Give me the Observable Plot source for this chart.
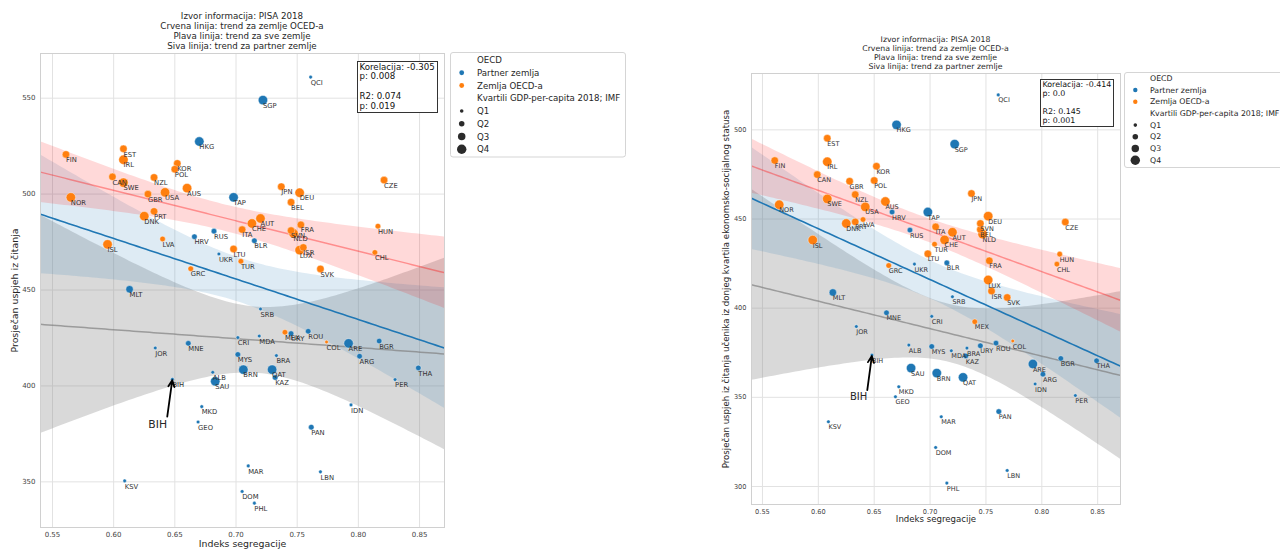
<!DOCTYPE html>
<html><head><meta charset="utf-8">
<script src="https://cdn.jsdelivr.net/npm/d3@7"></script>
<script src="https://cdn.jsdelivr.net/npm/@observablehq/plot@0.6"></script>
<style>
body{margin:0;background:#fff;font-family:"DejaVu Sans",sans-serif;}
#root{position:relative;width:1280px;height:553px;overflow:hidden;background:#fff}
</style></head><body><div id="root"></div>
<script>
// ---------- DATA ----------
const countries = ["QCI","SGP","FIN","EST","IRL","HKG","KOR","POL","CAN","SWE","NZL","GBR","USA","AUS","NOR","JPN","DEU","CZE","TAP","BEL","PRT","DNK","AUT","CHE","FRA","HUN","ITA","SVN","NLD","RUS","HRV","BLR","LVA","ISL","ISR","LUX","LTU","UKR","CHL","TUR","GRC","SVK","MLT","SRB","MEX","URY","ROU","CRI","MDA","COL","ARE","BGR","MNE","JOR","MYS","BRA","ARG","THA","BRN","QAT","ALB","KAZ","SAU","BIH","PER","IDN","MKD","GEO","PAN","MAR","LBN","KSV","DOM","PHL"];
const segregationIndex = [0.761,0.722,0.561,0.608,0.608,0.670,0.652,0.650,0.599,0.608,0.633,0.628,0.642,0.660,0.565,0.737,0.752,0.821,0.698,0.745,0.633,0.625,0.720,0.713,0.753,0.816,0.705,0.745,0.747,0.682,0.666,0.715,0.640,0.595,0.755,0.752,0.698,0.686,0.8135,0.704,0.663,0.769,0.613,0.720,0.740,0.745,0.759,0.7015,0.719,0.774,0.792,0.817,0.661,0.634,0.7015,0.733,0.801,0.849,0.706,0.7295,0.681,0.732,0.683,0.648,0.830,0.794,0.672,0.669,0.7615,0.710,0.769,0.609,0.705,0.715];
const readingMean = [561,549,520.7,523.6,517.9,527.4,516,513,509,506,508.7,500,500.9,503.1,498.3,503.9,500.7,507.3,498.3,495.8,491,488.5,487.3,484.7,484,483.3,481.5,481,479.5,480.7,477.8,475.7,476.6,473.8,472.2,470.8,471.4,468.8,469.6,465,461.1,461,450.4,440.1,428,427.3,428.5,425.2,426,422.9,422.2,423.4,422.2,419.8,416.4,415.8,415.5,409.4,408.5,408.5,407.1,404.4,402.4,403.5,403.3,390.1,389.2,381.2,378.5,358.3,355.2,350.5,345,338.9];
const readingBottomQuartile = [519.6,492,482.8,495.3,482.1,502.8,479.6,471.6,474.9,461.3,463.7,471.2,456.8,459.8,458,464.3,451.6,448.3,453.9,444.1,448.4,447.5,442.6,438.3,426.6,430.3,445.6,447.5,441.5,443.8,453.9,425.4,449.7,438.2,409.6,415.8,430.5,424.7,424.7,435.9,423.9,406,408.8,406.4,392.4,378.9,380.4,395.4,376.1,381.6,368.7,371.8,397.4,389.7,378.5,377.6,363,370.5,363.6,361.2,379.3,373.2,366.4,373.7,351,357.5,355.9,350.3,342,339.1,309,336.3,321.9,301.9];
const oecdMember = [0,0,1,1,1,0,1,1,1,1,1,1,1,1,1,1,1,1,0,1,1,1,1,1,1,1,1,1,1,0,0,0,1,1,1,1,1,0,1,1,1,1,0,0,1,0,0,0,0,1,0,0,0,0,0,0,0,0,0,0,0,0,0,0,0,0,0,0,0,0,0,0,0,0];
const gdpQuartile = [1,4,3,3,4,4,3,3,3,4,3,3,4,4,4,3,4,3,4,3,3,4,4,4,3,2,3,3,4,2,2,2,2,4,3,4,3,1,2,2,2,3,3,1,2,2,2,1,1,1,4,2,2,1,2,1,2,2,4,4,1,2,4,1,1,1,1,1,2,1,1,1,1,1];

const groupNames = ["Partner zemlja","Zemlja OECD-a"];
const quartileNames = ["Q1","Q2","Q3","Q4"];
const xTicks = [0.55,0.60,0.65,0.70,0.75,0.80,0.85];
const yTicksLeft = [350,400,450,500,550];
const yTicksRight = [300,350,400,450,500];
const titleLines = ["Izvor informacija: PISA 2018","Crvena linija: trend za zemlje OCED-a","Plava linija: trend za sve zemlje","Siva linija: trend za partner zemlje"];
const statsLeft = ["Korelacija: -0.305","p: 0.008","","R2: 0.074","p: 0.019"];
const statsRight = ["Korelacija: -0.414","p: 0.0","","R2: 0.145","p: 0.001"];
const xLabel = "Indeks segregacije";
const yLabelLeft = "Prosječan uspjeh iz čitanja";
const yLabelRight = "Prosječan uspjeh iz čitanja učenika iz donjeg kvartila ekonomsko-socijalnog statusa";
const legendHeaders = ["OECD","Kvartili GDP-per-capita 2018; IMF"];

// ---------- CHART ----------
const BLUE = "#1f77b4", ORANGE = "#ff7f0e";
const xDomain = [0.5402, 0.8704];
const rows = countries.map((c, i) => ({
  code: c, x: segregationIndex[i], yL: readingMean[i], yR: readingBottomQuartile[i],
  group: groupNames[oecdMember[i]], q: gdpQuartile[i]
}));

function tq(df){ return 1.96 + 2.4/df; }
function fit(sub, key){
  const N = sub.length;
  const mx = d3.mean(sub, d => d.x), my = d3.mean(sub, d => d[key]);
  let sxx = 0, sxy = 0;
  for (const d of sub){ sxx += (d.x-mx)**2; sxy += (d.x-mx)*(d[key]-my); }
  const b = sxy/sxx, a = my - b*mx;
  let ss = 0; for (const d of sub){ ss += (d[key] - (a + b*d.x))**2; }
  const s = Math.sqrt(ss/(N-2)), t = tq(N-2);
  return d3.range(101).map(i => {
    const x = xDomain[0] + (xDomain[1]-xDomain[0])*i/100;
    const y = a + b*x, se = s*Math.sqrt(1/N + (x-mx)**2/sxx);
    return {x, y, lo: y - t*se, hi: y + t*se};
  });
}
const rScale = {type: "linear", domain: [1,4], range: [1.8,4.7]};

function panel(cfg){
  const key = cfg.key;
  const fAll = fit(rows, key);
  const fOecd = fit(rows.filter(d => d.group === groupNames[1]), key);
  const fPart = fit(rows.filter(d => d.group === groupNames[0]), key);
  const bih = rows.find(d => d.code === "BIH");
  const svg = Plot.plot({
    width: cfg.width, height: 553,
    marginLeft: cfg.ml, marginRight: cfg.mr, marginTop: cfg.mt, marginBottom: cfg.mb,
    x: {domain: xDomain},
    y: {domain: cfg.yDomain},
    r: rScale,
    color: {domain: groupNames, range: [BLUE, ORANGE]},
    style: {fontFamily: "DejaVu Sans", fontSize: cfg.tickFont + "px", color: "#444", background: "white", maxWidth: "none"},
    marks: [
      Plot.gridX({ticks: xTicks, stroke: "#e2e2e2", strokeOpacity: 1}),
      Plot.gridY({ticks: cfg.yTicks, stroke: "#e2e2e2", strokeOpacity: 1}),
      Plot.areaY(fPart, {x: "x", y1: "lo", y2: "hi", fill: "#808080", fillOpacity: 0.3, clip: true}),
      Plot.areaY(fAll, {x: "x", y1: "lo", y2: "hi", fill: BLUE, fillOpacity: 0.15, clip: true}),
      Plot.areaY(fOecd, {x: "x", y1: "lo", y2: "hi", fill: "#ff0000", fillOpacity: 0.15, clip: true}),
      Plot.line(fPart, {x: "x", y: "y", stroke: "#808080", strokeOpacity: 0.7, strokeWidth: 1.5, clip: true}),
      Plot.line(fAll, {x: "x", y: "y", stroke: BLUE, strokeWidth: 1.6, clip: true}),
      Plot.line(fOecd, {x: "x", y: "y", stroke: "#ff0000", strokeOpacity: 0.35, strokeWidth: 1.5, clip: true}),
      Plot.frame({stroke: "#d0d0d0"}),
      Plot.dot(rows, {x: "x", y: key, r: "q", fill: "group", stroke: "white", strokeWidth: 0.4}),
      Plot.text(rows, {x: "x", y: key, text: "code", textAnchor: "start", dy: 5.5, fontSize: cfg.labelFont, fill: "#333"}),
      Plot.arrow([bih], {x1: d => d.x - 0.0042, y1: d => cfg.arrowTail, x2: "x", y2: key, stroke: "black", strokeWidth: 1.8, headLength: 6, headAngle: 50, insetEnd: 1}),
      Plot.text([bih], {x: () => 0.636, y: () => cfg.bihTextY, text: "code", fontSize: cfg.bihFont, fill: "#262626"}),
      Plot.axisX({ticks: xTicks, tickFormat: ".2f", tickSize: 0, tickPadding: 5, label: null, fill: "#444"}),
      Plot.axisY({ticks: cfg.yTicks, tickSize: 0, tickPadding: 5, label: null, fill: "#444"}),
      Plot.text([xLabel], {frameAnchor: "bottom", text: d => d, dy: cfg.xLabelDy, fontSize: cfg.axisFont, fill: "#262626"}),
      Plot.text([cfg.yLabel], {frameAnchor: "left", text: d => d, rotate: -90, textAnchor: "middle", dx: cfg.yLabelDx, fontSize: cfg.axisFont, fill: "#262626"})
    ]
  });
  svg.style.position = "absolute";
  svg.style.left = cfg.left + "px";
  svg.style.top = "0px";
  return svg;
}

const root = document.getElementById("root");
root.appendChild(panel({key: "yL", left: 0, width: 450, ml: 40, mr: 6, mt: 53, mb: 26,
  yDomain: [326.2, 573.3], yTicks: yTicksLeft, tickFont: 7, labelFont: 6.8, axisFont: 9.4,
  xLabelDy: 19, yLabelDx: -26, yLabel: yLabelLeft, arrowTail: 384, bihTextY: 380, bihFont: 10.8}));
root.appendChild(panel({key: "yR", left: 700, width: 430, ml: 51, mr: 10, mt: 73, mb: 49,
  yDomain: [289.9, 531.6], yTicks: yTicksRight, tickFont: 6.6, labelFont: 6.5, axisFont: 8.6,
  xLabelDy: 17.7, yLabelDx: -25, yLabel: yLabelRight, arrowTail: 354, bihTextY: 350.3, bihFont: 10}));

// ---------- overlay: titles, stat boxes, legends ----------
const ov = d3.select(root).append("svg").attr("width", 1280).attr("height", 553)
  .style("position", "absolute").style("left", 0).style("top", 0).style("pointer-events", "none")
  .attr("font-family", "DejaVu Sans");

function title(cx, y0, step, fs){
  titleLines.forEach((t, i) => ov.append("text").attr("x", cx).attr("y", y0 + i*step)
    .attr("text-anchor", "middle").attr("dominant-baseline", "central")
    .attr("font-size", fs).attr("fill", "#262626").text(t));
}
title(242, 16, 10, 8.7);
title(935.5, 39, 9, 7.8);

function stats(lines, x, y, w, h, step, fs){
  ov.append("rect").attr("x", x + 0.5).attr("y", y + 0.5).attr("width", w).attr("height", h)
    .attr("fill", "white").attr("stroke", "#333").attr("stroke-width", 1);
  lines.forEach((t, i) => ov.append("text").attr("x", x + 2.5).attr("y", y + 5.5 + i*step)
    .attr("dominant-baseline", "central").attr("font-size", fs).attr("fill", "#111").text(t));
}
stats(statsLeft, 357, 61, 80, 51, 9.85, 8.65);
stats(statsRight, 1040, 79, 73, 47, 8.95, 7.9);

function legend(x, y, w, h, y0, step, mx, tx, fs, cr){
  ov.append("rect").attr("x", x + 0.5).attr("y", y + 0.5).attr("width", w).attr("height", h)
    .attr("rx", 2.5).attr("fill", "white").attr("stroke", "#d5d5d5");
  const items = [
    {label: legendHeaders[0]},
    {label: groupNames[0], color: BLUE, r: cr},
    {label: groupNames[1], color: ORANGE, r: cr},
    {label: legendHeaders[1]},
    ...quartileNames.map((q, i) => ({label: q, color: "#2b2b2b", r: rScale.range[0] + (rScale.range[1]-rScale.range[0])*i/3}))
  ];
  items.forEach((it, i) => {
    const cy = y0 + i*step;
    if (it.color) ov.append("circle").attr("cx", mx).attr("cy", cy).attr("r", it.r).attr("fill", it.color);
    ov.append("text").attr("x", tx).attr("y", cy).attr("dominant-baseline", "central")
      .attr("font-size", fs).attr("fill", "#262626").text(it.label);
  });
}
legend(450, 52, 175, 104.5, 60, 12.75, 461.7, 477, 8.65, 2.4);
legend(1124, 72, 200, 95, 78.3, 11.7, 1135.3, 1150, 7.8, 2.2);
</script></body></html>
